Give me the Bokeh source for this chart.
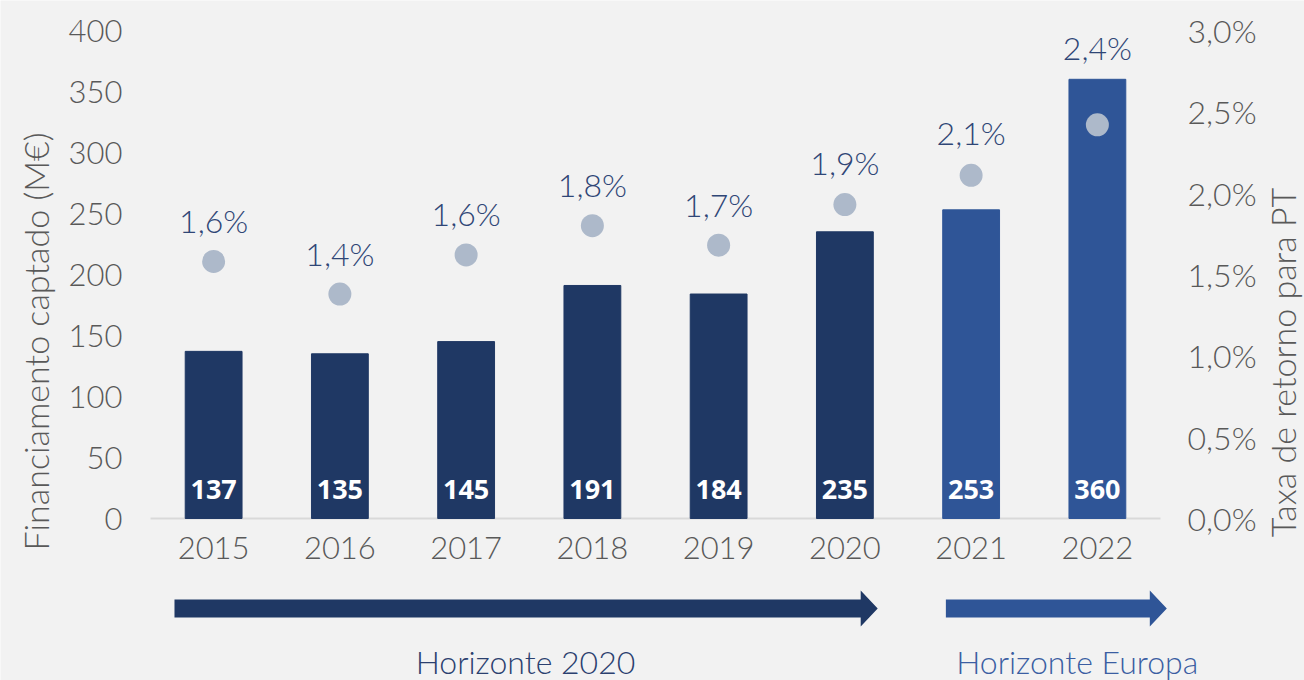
from bokeh.plotting import figure
from bokeh.models import Range1d, LinearAxis, CustomJSTickFormatter, ColumnDataSource
from bokeh.embed import file_html
from bokeh.resources import INLINE
from bokeh.core.properties import value

# ---------------- data ----------------
years = ["2015", "2016", "2017", "2018", "2019", "2020", "2021", "2022"]
funding = [137, 135, 145, 191, 184, 235, 253, 360]          # M€
rate = [1.58, 1.38, 1.62, 1.80, 1.68, 1.93, 2.11, 2.42]     # %
program = ["H2020"] * 6 + ["HE"] * 2
program_labels = ["Horizonte 2020", "Horizonte Europa"]
left_ticks = [0, 50, 100, 150, 200, 250, 300, 350, 400]
right_ticks = [0.0, 0.5, 1.0, 1.5, 2.0, 2.5, 3.0]
left_title = "Financiamento captado (M€)"
right_title = "Taxa de retorno para PT"

# ---------------- style / layout ----------------
BG = "#f2f2f2"
GREY = "#595959"
BAR_COL = {"H2020": "#1f3864", "HE": "#2f5597"}
TXT_COL = {"H2020": "#2b406f", "HE": "#3b5ea2"}
DOT_COL = "#adb9ca"
PCT_COL = "#2f4676"
FONT = "Lato Light"
W, H = 1304, 680
PLOT_L, PLOT_R, PLOT_T, PLOT_B = 150, 1160, 30, 518      # plotting area in pixels
N = len(years)
UNIT = (PLOT_R - PLOT_L) / N                              # px per category
LMAX, RMAX = 400.0, 3.0
YPX = (PLOT_B - PLOT_T) / LMAX                            # px per M€
RPX = (PLOT_B - PLOT_T) / RMAX                            # px per %
PCT_LABEL_OFFSET = [-41, -41, -41, -41, -41, -42, -43, -77]   # px above the dot


def xpx(px):
    return (px - PLOT_L) / UNIT


def ypx(px):
    return (PLOT_B - px) / YPX


xc = [i + 0.5 for i in range(N)]

src = ColumnDataSource(dict(
    x=xc,
    funding=funding,
    rate=rate,
    color=[BAR_COL[g] for g in program],
    flabel=[str(v) for v in funding],
    plabel=[("%.1f" % r).replace(".", ",") + "%" for r in rate],
    poff=PCT_LABEL_OFFSET,
))

p = figure(x_range=Range1d(xpx(0), xpx(W)),
           y_range=Range1d(-(H - PLOT_B) / YPX, LMAX + PLOT_T / YPX),
           width=W, height=H, output_backend="svg", toolbar_location=None,
           min_border_left=0, min_border_right=0, min_border_top=0, min_border_bottom=0,
           background_fill_color=BG, border_fill_color=BG, outline_line_color=None)
p.extra_y_ranges = {"pct": Range1d(-(H - PLOT_B) / RPX, RMAX + PLOT_T / RPX)}
p.xgrid.visible = False
p.ygrid.visible = False

# baseline
p.segment(x0=[0], y0=[0], x1=[N], y1=[0], line_color="#d9d9d9", line_width=2)

p.vbar(x="x", top="funding", width=0.45, color="color", source=src)
p.scatter(x="x", y="rate", size=23, color=DOT_COL, line_color=None, y_range_name="pct", source=src)
p.text(x="x", y=0, text="flabel", source=src, y_offset=-29,
       text_align="center", text_baseline="middle", text_color="white",
       text_font=value("Open Sans"), text_font_style="bold", text_font_size="27px")
p.text(x="x", y="rate", text="plabel", source=src, y_range_name="pct", y_offset="poff",
       text_align="center", text_baseline="middle", text_color=PCT_COL,
       text_font=value(FONT), text_font_size="32px")

# axes
yl = p.yaxis[0]
yl.fixed_location = 0
yl.ticker = left_ticks
yl.axis_line_color = None
yl.major_tick_line_color = None
yl.minor_tick_line_color = None
yl.major_label_standoff = 22
yl.major_label_text_font = FONT
yl.major_label_text_font_size = "31px"
yl.major_label_text_color = GREY

xa = p.xaxis[0]
xa.fixed_location = 0
xa.ticker = xc
xa.formatter = CustomJSTickFormatter(args=dict(labels=years),
                                     code="return labels[Math.round(tick - 0.5)];")
xa.axis_line_color = None
xa.major_tick_line_color = None
xa.minor_tick_line_color = None
xa.major_label_standoff = 12
xa.major_label_text_font = FONT
xa.major_label_text_font_size = "31px"
xa.major_label_text_color = GREY

yr = LinearAxis(y_range_name="pct", ticker=right_ticks,
                formatter=CustomJSTickFormatter(code="return tick.toFixed(1).replace('.', ',') + '%';"))
yr.fixed_location = N
yr.axis_line_color = None
yr.major_tick_line_color = None
yr.minor_tick_line_color = None
yr.major_label_standoff = 21
yr.major_label_text_font = FONT
yr.major_label_text_font_size = "32px"
yr.major_label_text_color = GREY
p.add_layout(yr, "right")

# axis titles
p.text(x=[xpx(35)], y=[ypx(341)], text=[left_title], angle=90, angle_units="deg",
       text_align="center", text_baseline="middle", text_color=GREY,
       text_font=value(FONT), text_font_size="34px")
p.text(x=[xpx(1282)], y=[ypx(362)], text=[right_title], angle=90, angle_units="deg",
       text_align="center", text_baseline="middle", text_color=GREY,
       text_font=value(FONT), text_font_size="34px")

# ---------------- program arrows ----------------
arrow_start = [0.19, 6.30]     # layout, in category units
arrow_tip = [5.76, 8.05]
label_x = [2.97, 7.34]
ARROW_Y = ypx(608)
SHAFT = 9 / YPX
HEAD = 18 / YPX
HEAD_LEN = 17 / UNIT
xs, ys = [], []
for s, t in zip(arrow_start, arrow_tip):
    b = t - HEAD_LEN
    xs.append([s, b, b, t, b, b, s])
    ys.append([ARROW_Y + SHAFT, ARROW_Y + SHAFT, ARROW_Y + HEAD, ARROW_Y,
               ARROW_Y - HEAD, ARROW_Y - SHAFT, ARROW_Y - SHAFT])
p.patches(xs=xs, ys=ys, color=[BAR_COL["H2020"], BAR_COL["HE"]], line_width=0)
p.text(x=label_x, y=[ypx(661)] * 2, text=program_labels,
       text_color=[TXT_COL["H2020"], TXT_COL["HE"]],
       text_align="center", text_baseline="middle",
       text_font=value(FONT), text_font_size="32px")

open("out.html", "w").write(file_html(p, INLINE))
